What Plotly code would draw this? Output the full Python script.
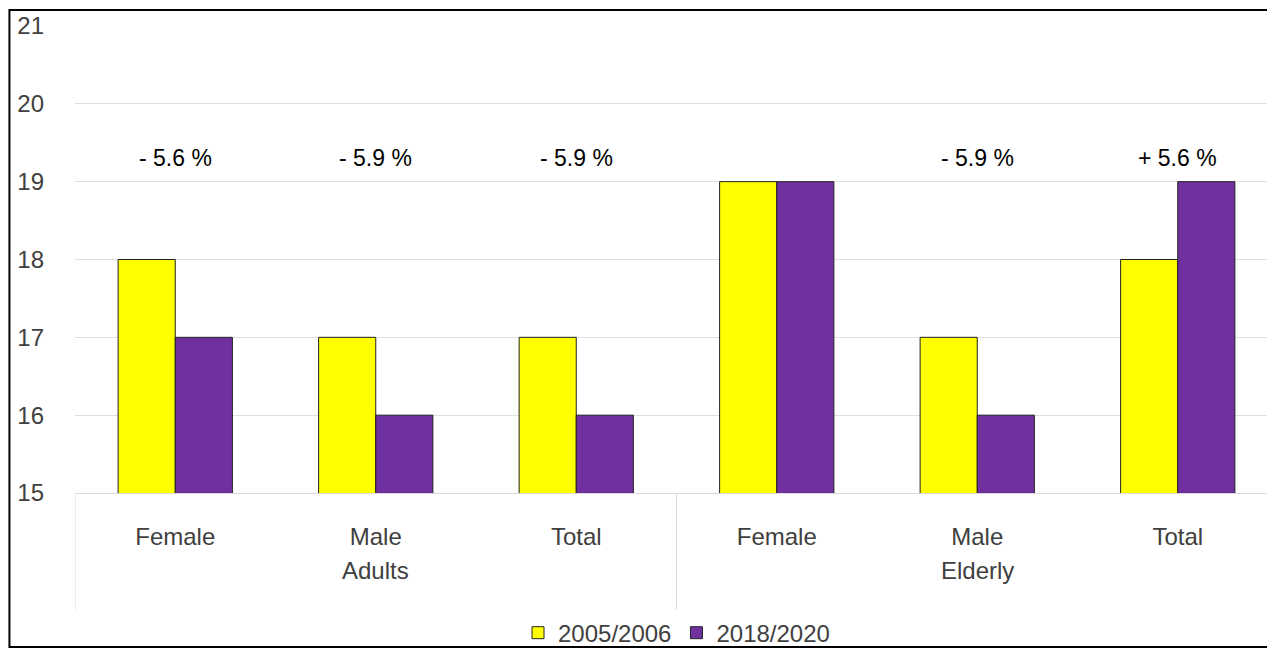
import plotly.graph_objects as go

categories = ["Female", "Male", "Total", "Female", "Male", "Total"]
groups = ["Adults", "Elderly"]
series_2005 = [18, 17, 17, 19, 17, 18]
series_2018 = [17, 16, 16, 19, 16, 19]
changes = ["- 5.6 %", "- 5.9 %", "- 5.9 %", "", "- 5.9 %", "+ 5.6 %"]

xs = list(range(len(categories)))
fig = go.Figure()
fig.add_trace(go.Bar(x=xs, y=series_2005, name="2005/2006",
                     marker=dict(color="#FFFF00", line=dict(color="#222", width=1))))
fig.add_trace(go.Bar(x=xs, y=series_2018, name="2018/2020",
                     marker=dict(color="#7030A0", line=dict(color="#222", width=1))))

annotations = []
for x, t in zip(xs, changes):
    if t:
        annotations.append(dict(x=x, y=19.3, xref="x", yref="y", text=t, showarrow=False,
                                font=dict(size=23, color="black")))
for i, g in enumerate(groups):
    annotations.append(dict(x=1 + 3 * i, y=-0.2, xref="x", yref="paper", text=g,
                            showarrow=False, font=dict(size=24, color="#404040")))

shapes = [dict(type="line", xref="x", yref="paper", x0=x, x1=x, y0=0, y1=-0.25,
               line=dict(color="#d9d9d9", width=1)) for x in (-0.5, 2.5, 5.5)]
shapes.append(dict(type="rect", xref="paper", yref="paper", x0=-0.0545, x1=1.003,
                   y0=-0.33, y1=1.034, line=dict(color="black", width=2)))

fig.update_layout(
    width=1275, height=653,
    margin=dict(l=67, r=5, t=18, b=159),
    plot_bgcolor="white", paper_bgcolor="white",
    barmode="group", bargap=0.43, bargroupgap=0,
    font=dict(family="Liberation Sans, Arial", color="#404040"),
    xaxis=dict(range=[-0.5, 5.5], tickvals=xs, ticktext=categories, showgrid=False,
               showline=True, linecolor="#d9d9d9", tickfont=dict(size=24), ticks="",
               ticklabelstandoff=22, automargin=False),
    yaxis=dict(range=[15, 21], dtick=1, showgrid=True, gridcolor="#e0e0e0",
               zeroline=False, tickfont=dict(size=24), ticklabelstandoff=30,
               automargin=False),
    legend=dict(orientation="h", x=0.5, xanchor="center", y=-0.3, yanchor="middle",
                bgcolor="rgba(0,0,0,0)", font=dict(size=24, color="#404040")),
    annotations=annotations, shapes=shapes,
)
fig.write_html("out.html")
